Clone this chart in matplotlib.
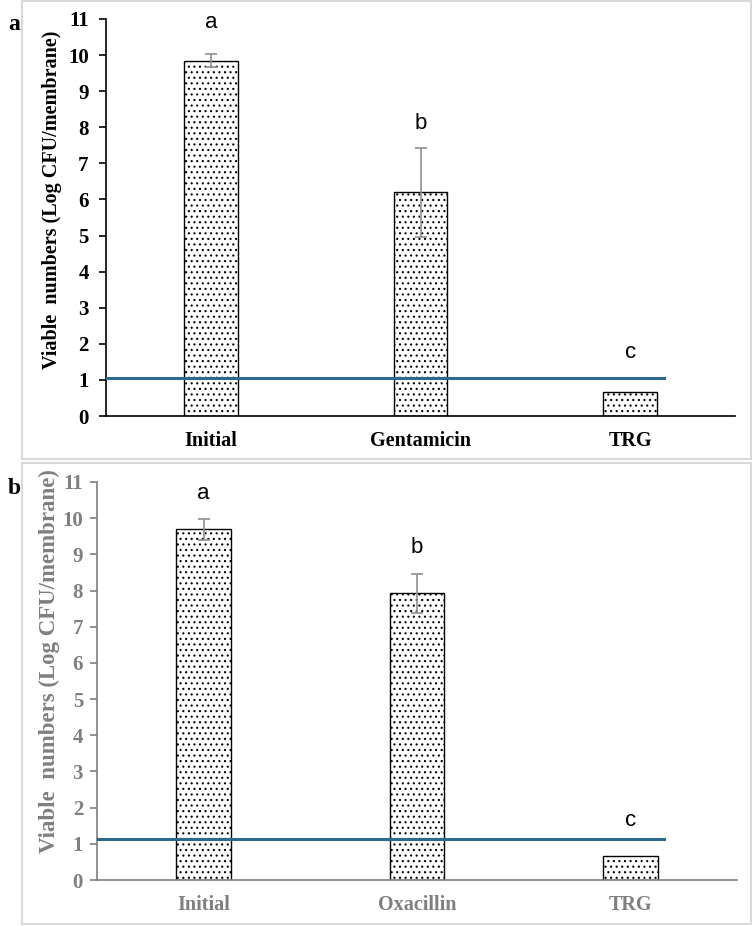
import numpy as np
import matplotlib
matplotlib.use("Agg")
import matplotlib.pyplot as plt
from matplotlib.patches import Rectangle

plt.rcParams['hatch.linewidth'] = 0.8

# panel a
cats_a = ["Initial", "Gentamicin", "TRG"]
vals_a = [9.85, 6.2, 0.67]
err_a = [0.19, 1.23, 0.0]
letters_a = ["a", "b", "c"]
letter_y_a = [10.89, 8.1, 1.75]
lod_a = 1.05

# panel b
cats_b = ["Initial", "Oxacillin", "TRG"]
vals_b = [9.69, 7.92, 0.66]
err_b = [0.3, 0.53, 0.0]
letters_b = ["a", "b", "c"]
letter_y_b = [10.69, 9.2, 1.65]
lod_b = 1.12

yticks = list(range(0, 12))
ylab = "Viable  numbers (Log CFU/membrane)"

W, H = 752, 926
fig = plt.figure(figsize=(W / 100, H / 100), dpi=100)

def fx(px):
    return px / W

def fy(py):
    return 1 - py / H

# light gray panel frames
for top, bot in [(1, 459), (463, 924)]:
    fig.patches.append(Rectangle((fx(22), fy(bot)), fx(751) - fx(22), fy(top) - fy(bot),
                                 transform=fig.transFigure, fill=False,
                                 edgecolor="#d9d9d9", lw=1.5))


def panel(rect, cats, vals, errs, letters, letter_y, lod, col, tsize, lsize, xsize, ypad):
    ax = fig.add_axes(rect)
    x = np.arange(len(cats))
    ax.bar(x, vals, width=0.255, color="white", edgecolor="black", hatch="...",
           lw=1.0, zorder=2)
    ax.errorbar(x[:2], vals[:2], yerr=errs[:2], fmt="none", ecolor="#909090",
                elinewidth=1.2, capsize=4, capthick=1.2, zorder=3)
    ax.plot([-0.5, 2.16], [lod, lod], color="#2b6a8c", lw=2.2, zorder=4)
    for xi, t, yy in zip(x, letters, letter_y):
        ax.text(xi, yy, t, ha="center", va="center", fontsize=16,
                family="Liberation Sans", color="black")
    ax.set_xlim(-0.5, 2.5)
    ax.set_ylim(0, 11)
    ax.set_yticks(yticks)
    ax.set_xticks(x)
    ax.set_xticklabels(cats, family="Liberation Serif", fontweight="bold",
                       fontsize=xsize, color=col)
    ax.set_yticklabels([str(t) for t in yticks], family="Liberation Serif",
                       fontweight="bold", fontsize=tsize, color=col)
    ax.tick_params(axis="x", length=0, pad=11)
    ax.tick_params(axis="y", length=5, width=1.2, color=col, pad=ypad, direction="out")
    for s in ["top", "right"]:
        ax.spines[s].set_visible(False)
    ax.spines["left"].set_color(col)
    ax.spines["bottom"].set_color(col)
    ax.spines["left"].set_linewidth(1.2)
    ax.spines["bottom"].set_linewidth(1.2)
    ax.set_ylabel(ylab, family="Liberation Serif", fontweight="bold",
                  fontsize=lsize, color=col)
    return ax

ax_a = panel([fx(106), fy(416), fx(735) - fx(106), fy(19) - fy(416)],
             cats_a, vals_a, err_a, letters_a, letter_y_a, lod_a,
             "black", 15, 14.5, 14.5, 7.5)
ax_a.yaxis.set_label_coords(-(106 - 62) / (735 - 106), (416 - 200) / 397)

ax_b = panel([fx(97), fy(880), fx(737) - fx(97), fy(482) - fy(880)],
             cats_b, vals_b, err_b, letters_b, letter_y_b, lod_b,
             "#7f7f7f", 15, 16.5, 14.5, 5)
ax_b.yaxis.set_label_coords(-(97 - 60) / (737 - 97), (880 - 661) / 398)

fig.text(fx(14), fy(24), "a", family="Liberation Serif", fontweight="bold",
         fontsize=17, ha="center", va="center")
fig.text(fx(14), fy(488), "b", family="Liberation Serif", fontweight="bold",
         fontsize=17, ha="center", va="center")

fig.savefig("out.png", dpi=100)
